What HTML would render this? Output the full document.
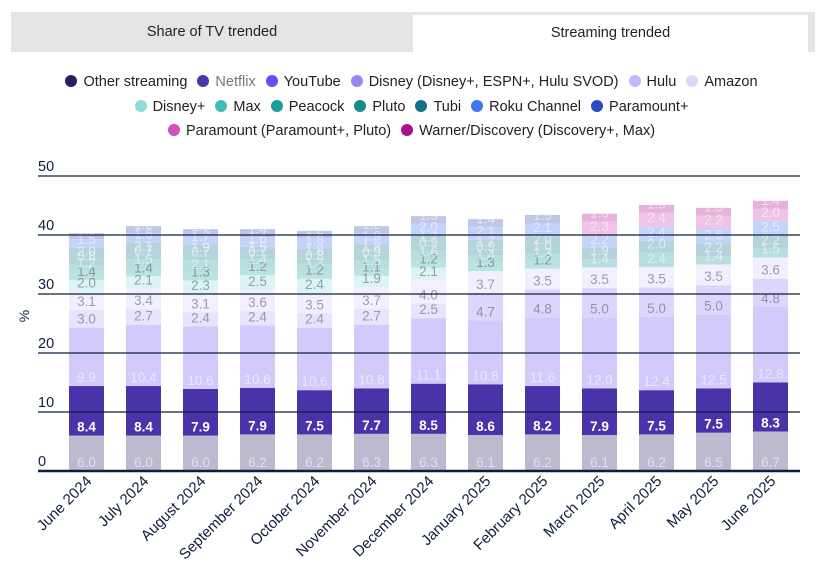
<!DOCTYPE html>
<html><head><meta charset="utf-8">
<style>
body{margin:0;background:#fff;font-family:"Liberation Sans",sans-serif;}
#wrap{position:relative;width:823px;height:588px;overflow:hidden;}
.tabs{position:absolute;left:11px;top:12px;width:804px;height:40px;background:#e5e5e5;}
.tab{position:absolute;top:0;height:40px;line-height:40px;text-align:center;font-size:14.5px;color:#222;}
.tab.active{background:#fff;top:3px;height:37px;line-height:37px;}
.legend{position:absolute;left:0;width:823px;text-align:center;font-size:14.5px;color:#222;}
.li{display:inline-block;margin:0 5px;}
.dot{display:inline-block;width:12px;height:12px;border-radius:50%;vertical-align:-1px;margin-right:6px;}
</style></head><body>
<div id="wrap">
<div class="tabs">
  <div class="tab" style="left:0;width:402px">Share of TV trended</div>
  <div class="tab active" style="left:402px;width:395px">Streaming trended</div>
</div>
<div id="legend"></div>
<svg id="chart" width="823" height="588" style="position:absolute;left:0;top:0"></svg>
</div>
<script>
const categories=["June 2024","July 2024","August 2024","September 2024","October 2024","November 2024","December 2024","January 2025","February 2025","March 2025","April 2025","May 2025","June 2025"];
const seriesNames=["Other streaming","Netflix","YouTube","Disney (Disney+, ESPN+, Hulu SVOD)","Hulu","Amazon","Disney+","Max","Peacock","Pluto","Tubi","Roku Channel","Paramount+","Paramount (Paramount+, Pluto)","Warner/Discovery (Discovery+, Max)"];
const legendColors=["#2a1f5e","#4b33a8","#6a4cf0","#9a86f5","#c4b8fa","#ddd6fc","#8fdcd8","#40bdb5","#1a9c9c","#178a8f","#12718a","#3f76f0","#2b4bbf","#d24fc0","#a8108f"];
const fadedColors=["#bdbad0","#4a32a9","#d3c9fb","#dcd6fc","#e8e4fd","#f2f0fe","#dcf4f3","#b9e4e2","#b6dfde","#b2d6d8","#b5d3da","#c5d3fa","#bfc7e9","#efc2e8","#e6b2da"];
const otherStreaming=[6.0,6.0,6.0,6.2,6.2,6.3,6.3,6.1,6.2,6.1,6.2,6.5,6.7];
const netflix=[8.4,8.4,7.9,7.9,7.5,7.7,8.5,8.6,8.2,7.9,7.5,7.5,8.3];
const youtube=[9.9,10.4,10.6,10.6,10.6,10.8,11.1,10.8,11.6,12.0,12.4,12.5,12.8];
const disneyCombined=[0,0,0,0,0,0,0,4.7,4.8,5.0,5.0,5.0,4.8];
const hulu=[3.0,2.7,2.4,2.4,2.4,2.7,2.5,0,0,0,0,0,0];
const amazon=[3.1,3.4,3.1,3.6,3.5,3.7,4.0,3.7,3.5,3.5,3.5,3.5,3.6];
const disneyPlus=[2.0,2.1,2.3,2.5,2.4,1.9,2.1,0,0,0,0,0,0];
const max=[1.4,1.4,1.3,1.2,1.2,1.1,1.2,1.3,1.2,0,0,0,0];
const peacock=[1.2,1.5,2.1,1.4,1.3,1.5,1.6,1.4,1.3,1.4,2.4,1.4,1.5];
const pluto=[0.8,0.7,0.7,0.7,0.8,0.9,0.9,0.9,1.0,0,0,0,0];
const tubi=[2.0,2.1,1.9,1.5,1.8,1.8,1.7,1.7,2.0,1.9,2.0,2.2,2.2];
const roku=[1.5,1.6,1.7,1.6,1.8,1.9,2.0,2.1,2.1,2.2,2.4,2.5,2.5];
const paramountPlus=[1.0,1.2,1.0,1.4,1.2,1.2,1.3,1.4,1.5,0,0,0,0];
const paramountCombined=[0,0,0,0,0,0,0,0,0,2.3,2.4,2.2,2.0];
const warner=[0,0,0,0,0,0,0,0,0,1.3,1.3,1.3,1.4];
const series=[otherStreaming,netflix,youtube,disneyCombined,hulu,amazon,disneyPlus,max,peacock,pluto,tubi,roku,paramountPlus,paramountCombined,warner];
const yTicks=[0,10,20,30,40,50];

const NS="http://www.w3.org/2000/svg";
const svg=document.getElementById('chart');
const plotL=38,plotR=800,y0=471,pxPerUnit=5.9,firstX=86.5,step=57,barW=35;
const yScale=v=>y0-v*pxPerUnit;
const xScale=i=>firstX+i*step;
function mk(tag,attrs){const e=document.createElementNS(NS,tag);for(const k in attrs)e.setAttribute(k,attrs[k]);svg.appendChild(e);return e;}

const rows=[[0,1,2,3,4,5],[6,7,8,9,10,11,12],[13,14]];
const legend=document.getElementById('legend');
rows.forEach((r,ri)=>{
  const row=document.createElement('div');row.className='legend';row.style.top=(74+ri*24.5)+'px';
  
  
  r.forEach(si=>{
    const it=document.createElement('span');it.className='li';
    
    
    it.innerHTML='<span class="dot" style="background:'+legendColors[si]+'"></span>'+seriesNames[si];
    if(si===1)it.style.color='#777';
    row.appendChild(it);
  });
  legend.appendChild(row);
});

categories.forEach((c,i)=>{
  let acc=0;
  series.forEach((s,si)=>{
    const v=s[i];if(!v)return;
    const yb=yScale(acc),yt=yScale(acc+v);
    const r=mk('rect',{x:xScale(i)-barW/2,y:yt,width:barW,height:yb-yt,fill:fadedColors[si]});
    
    
    acc+=v;
  });
});
categories.forEach((c,i)=>{
  let acc=0;
  series.forEach((s,si)=>{
    const v=s[i];if(!v)return;
    const yb=yScale(acc);
    let fill='rgba(255,255,255,0.55)',fw='normal';
    if(si===1){fill='#fff';fw='bold';}
    if(si>=3&&si<=7)fill='rgba(100,100,115,0.6)';
    const t=mk('text',{x:xScale(i),y:yb-4,'text-anchor':'middle','font-size':'13.5',fill:fill,'font-weight':fw});
    
    
    t.textContent=v.toFixed(1);
    acc+=v;
  });
});
yTicks.forEach(t=>{
  const y=yScale(t);
  const l=mk('line',{x1:plotL,x2:plotR,y1:y,y2:y,stroke:'#0f1e3c','stroke-width':t===0?2.5:1.2});
  
  
  const tx=mk('text',{x:plotL,y:y-5,'font-size':'14.5',fill:'#0f1e3c'});
  
  
  tx.textContent=t;
});
const yt=mk('text',{x:0,y:0,'font-size':'14',fill:'#0f1e3c',transform:'translate(29,316) rotate(-90)','text-anchor':'middle'});


yt.textContent='%';
categories.forEach((c,i)=>{
  const x=xScale(i)+6,y=482;
  const t=mk('text',{x:x,y:y,'font-size':'15',fill:'#0f1e3c','text-anchor':'end',transform:'rotate(-45 '+x+' '+y+')'});
  
  
  t.textContent=c;
});
</script>
</body></html>
